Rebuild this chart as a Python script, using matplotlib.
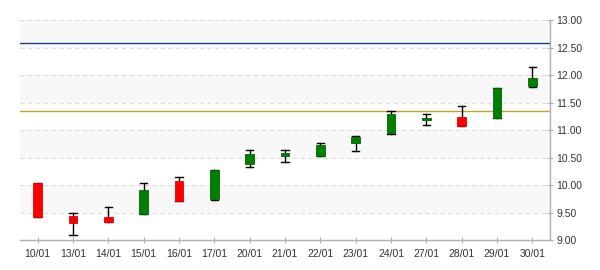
import matplotlib
matplotlib.use("Agg")
import matplotlib.pyplot as plt
from matplotlib.patches import Rectangle

dates = ["10/01", "13/01", "14/01", "15/01", "16/01", "17/01", "20/01", "21/01",
         "22/01", "23/01", "24/01", "27/01", "28/01", "29/01", "30/01"]
opens = [10.04, 9.43, 9.42, 9.48, 10.07, 9.75, 10.39, 10.53, 10.53, 10.77, 10.95, 11.18, 11.23, 11.21, 11.805]
closes = [9.41, 9.30, 9.33, 9.91, 9.71, 10.27, 10.56, 10.58, 10.72, 10.88, 11.285, 11.21, 11.08, 11.76, 11.94]
highs = [10.04, 9.50, 9.595, 10.03, 10.145, 10.27, 10.63, 10.63, 10.76, 10.885, 11.34, 11.30, 11.43, 11.76, 12.14]
lows = [9.41, 9.10, 9.33, 9.48, 9.71, 9.72, 10.32, 10.42, 10.53, 10.61, 10.92, 11.085, 11.08, 11.21, 11.78]
ref_lines = [12.58, 11.34]
ref_colors = ["#1f3f7f", "#c8a02a"]
yticks = [9.0, 9.5, 10.0, 10.5, 11.0, 11.5, 12.0, 12.5, 13.0]

plt.rcParams['font.family'] = ['Liberation Sans', 'DejaVu Sans']

fig = plt.figure(figsize=(6, 2.7), dpi=100)
ax = fig.add_axes([20/600, 30/270, 530/600, 220/270])
ax.set_xlim(-0.5, len(dates) - 0.5)
ax.set_ylim(9.0, 13.0)

# alternating bands
for i in range(len(yticks) - 1):
    if (len(yticks) - 2 - i) % 2 == 0:
        ax.axhspan(yticks[i], yticks[i + 1], color="#f8f8f8", zorder=0, lw=0)
for y in yticks[1:]:
    ax.axhline(y, color="#dddddd", lw=0.8, ls=(0, (4, 3)), zorder=1)

for y, c in zip(ref_lines, ref_colors):
    ax.axhline(y, color=c, lw=1.0, zorder=2)

bw = 0.24
cw = 0.2
for i, (o, c, h, l) in enumerate(zip(opens, closes, highs, lows)):
    ax.plot([i, i], [l, h], color="black", lw=1.0, zorder=3)
    ax.plot([i - cw/2, i + cw/2], [h, h], color="black", lw=1.0, zorder=3)
    ax.plot([i - cw/2, i + cw/2], [l, l], color="black", lw=1.0, zorder=3)
    up = c >= o
    fc = "#008000" if up else "#ff0000"
    ec = "#006400" if up else "#e00000"
    ax.add_patch(Rectangle((i - bw/2, min(o, c)), bw, max(abs(c - o), 0.02),
                           facecolor=fc, edgecolor=ec, lw=0.6, zorder=4))

ax.set_xticks(range(len(dates)))
ax.set_xticklabels(dates)
ax.set_yticks(yticks)
ax.set_yticklabels([f"{v:.2f}" for v in yticks])
ax.yaxis.tick_right()
for s in ["top", "left"]:
    ax.spines[s].set_visible(False)
for s in ["bottom", "right"]:
    ax.spines[s].set_color("#b0b0b0")
    ax.spines[s].set_linewidth(1.0)
ax.tick_params(axis="both", colors="#b0b0b0", labelcolor="#333333", labelsize=7.5,
               length=5, width=0.8, direction="inout")
ax.tick_params(axis="x", pad=4)
ax.tick_params(axis="y", pad=2)

fig.savefig("out.png", dpi=100)
